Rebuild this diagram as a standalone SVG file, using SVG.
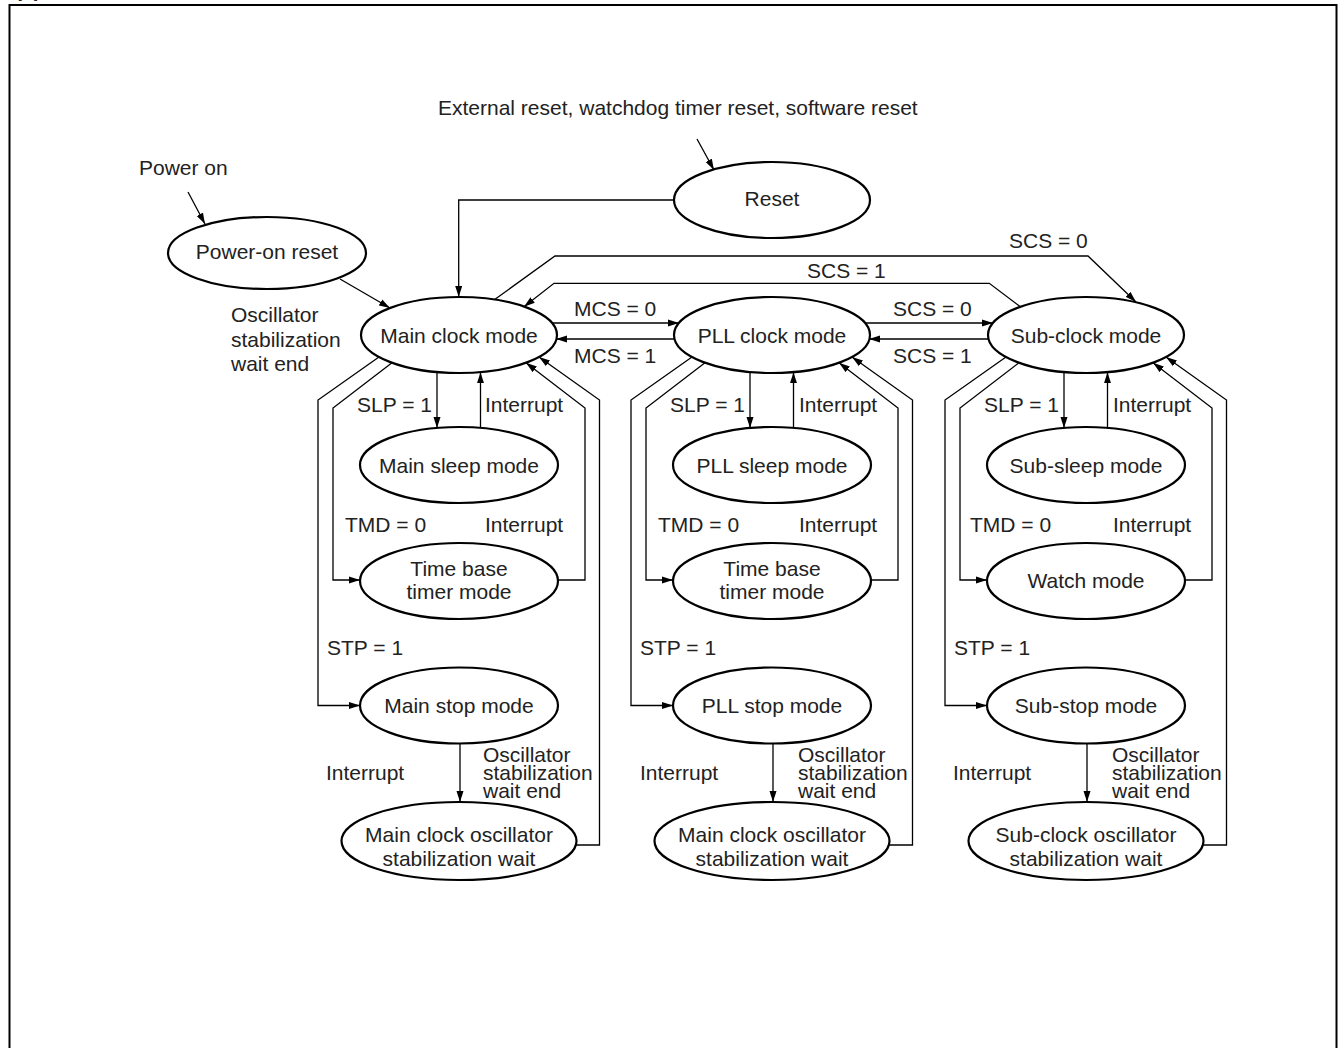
<svg xmlns="http://www.w3.org/2000/svg" width="1340" height="1048" viewBox="0 0 1340 1048">
<style>
text{font-family:"Liberation Sans",Arial,sans-serif;font-size:21px;fill:#222}
.c{text-anchor:middle}
.n{fill:#fff;stroke:#000;stroke-width:2.2}
.w{fill:none;stroke:#000;stroke-width:1.3;marker-end:url(#ah)}
</style>
<defs>
<marker id="ah" markerWidth="11" markerHeight="8" refX="11" refY="4" orient="auto" markerUnits="userSpaceOnUse"><path d="M0,0.5 L11,4 L0,7.5 z" fill="#000"/></marker>
</defs>
<rect x="0" y="0" width="1340" height="1048" fill="#fff"/>
<text x="15" y="-3.5" style="font-weight:bold">(1)</text>
<rect x="9.5" y="5" width="1327" height="1100" fill="none" stroke="#000" stroke-width="2"/>

<g id="connectors">
<path class="w" d="M188,192 L205,224"/>
<path class="w" d="M697,139 L714,170"/>
<path class="w" d="M340,279 L390,308"/>
<path class="w" d="M674,200 L458.7,200 L458.7,297"/>
<path class="w" d="M494,300 L555,256 L1088,256 L1136,302"/>
<path class="w" d="M1024,309.5 L989.3,283.3 L554,283.3 L524,306.8"/>
<path class="w" d="M540,323 L679,323"/>
<path class="w" d="M690,339 L556,339"/>
<path class="w" d="M850,323 L993,323"/>
<path class="w" d="M1000,339 L869,339"/>
<g id="col1-links" transform="translate(459,0)">
<path class="w" d="M-22,372 L-22,428"/>
<path class="w" d="M21.5,428 L21.5,372.2"/>
<path class="w" d="M-80,357 L-141,400 L-141,705.5 L-99,705.5"/>
<path class="w" d="M-67,362.7 L-126,408 L-126,580 L-99,580"/>
<path class="w" d="M99,580 L126,580 L126,408 L67,362.7"/>
<path class="w" d="M110,845 L140.5,845 L140.5,400 L80,357"/>
<path class="w" d="M1,743.5 L1,802"/>
</g>
<g id="col2-links" transform="translate(772,0)">
<path class="w" d="M-22,372 L-22,428"/>
<path class="w" d="M21.5,428 L21.5,372.2"/>
<path class="w" d="M-80,357 L-141,400 L-141,705.5 L-99,705.5"/>
<path class="w" d="M-67,362.7 L-126,408 L-126,580 L-99,580"/>
<path class="w" d="M99,580 L126,580 L126,408 L67,362.7"/>
<path class="w" d="M110,845 L140.5,845 L140.5,400 L80,357"/>
<path class="w" d="M1,743.5 L1,802"/>
</g>
<g id="col3-links" transform="translate(1086,0)">
<path class="w" d="M-22,372 L-22,428"/>
<path class="w" d="M21.5,428 L21.5,372.2"/>
<path class="w" d="M-80,357 L-141,400 L-141,705.5 L-99,705.5"/>
<path class="w" d="M-67,362.7 L-126,408 L-126,580 L-99,580"/>
<path class="w" d="M99,580 L126,580 L126,408 L67,362.7"/>
<path class="w" d="M110,845 L140.5,845 L140.5,400 L80,357"/>
<path class="w" d="M1,743.5 L1,802"/>
</g>
</g>

<g id="labels">
<text x="438" y="115">External reset, watchdog timer reset, software reset</text>
<text x="139" y="175">Power on</text>
<text x="231" y="322">Oscillator<tspan x="231" y="347">stabilization</tspan><tspan x="231" y="371">wait end</tspan></text>
<text x="1009" y="248">SCS = 0</text>
<text x="807" y="278">SCS = 1</text>
<text x="574" y="316">MCS = 0</text>
<text x="574" y="363">MCS = 1</text>
<text x="893" y="316">SCS = 0</text>
<text x="893" y="363">SCS = 1</text>
<g transform="translate(459,0)">
<text x="-102" y="412">SLP = 1</text>
<text x="26" y="412">Interrupt</text>
<text x="-114" y="532">TMD = 0</text>
<text x="26" y="532">Interrupt</text>
<text x="-132" y="655">STP = 1</text>
<text x="-133" y="780">Interrupt</text>
<text x="24" y="762">Oscillator<tspan x="24" y="780">stabilization</tspan><tspan x="24" y="798">wait end</tspan></text>
</g>
<g transform="translate(772,0)">
<text x="-102" y="412">SLP = 1</text>
<text x="27" y="412">Interrupt</text>
<text x="-114" y="532">TMD = 0</text>
<text x="27" y="532">Interrupt</text>
<text x="-132" y="655">STP = 1</text>
<text x="-132" y="780">Interrupt</text>
<text x="26" y="762">Oscillator<tspan x="26" y="780">stabilization</tspan><tspan x="26" y="798">wait end</tspan></text>
</g>
<g transform="translate(1086,0)">
<text x="-102" y="412">SLP = 1</text>
<text x="27" y="412">Interrupt</text>
<text x="-116" y="532">TMD = 0</text>
<text x="27" y="532">Interrupt</text>
<text x="-132" y="655">STP = 1</text>
<text x="-133" y="780">Interrupt</text>
<text x="26" y="762">Oscillator<tspan x="26" y="780">stabilization</tspan><tspan x="26" y="798">wait end</tspan></text>
</g>
</g>

<g id="power-on-reset"><ellipse class="n" cx="267" cy="253" rx="99" ry="36"/><text class="c" x="267" y="259">Power-on reset</text></g>
<g id="reset"><ellipse class="n" cx="772" cy="200" rx="98" ry="38"/><text class="c" x="772" y="206">Reset</text></g>

<g id="main-clock-mode"><ellipse class="n" cx="459" cy="335" rx="98" ry="38"/><text class="c" x="459" y="342.5">Main clock mode</text></g>
<g id="main-sleep-mode"><ellipse class="n" cx="459" cy="465" rx="99" ry="38"/><text class="c" x="459" y="472.5">Main sleep mode</text></g>
<g id="main-timebase-mode"><ellipse class="n" cx="459" cy="581" rx="99" ry="38"/><text class="c" x="459" y="575.5">Time base<tspan x="459" y="598.5">timer mode</tspan></text></g>
<g id="main-stop-mode"><ellipse class="n" cx="459" cy="705.5" rx="99" ry="38"/><text class="c" x="459" y="713">Main stop mode</text></g>
<g id="main-osc-wait-1"><ellipse class="n" cx="459" cy="841" rx="117.5" ry="39"/><text class="c" x="459" y="841.5">Main clock oscillator<tspan x="459" y="866">stabilization wait</tspan></text></g>

<g id="pll-clock-mode"><ellipse class="n" cx="772" cy="335" rx="98" ry="38"/><text class="c" x="772" y="342.5">PLL clock mode</text></g>
<g id="pll-sleep-mode"><ellipse class="n" cx="772" cy="465" rx="99" ry="38"/><text class="c" x="772" y="472.5">PLL sleep mode</text></g>
<g id="pll-timebase-mode"><ellipse class="n" cx="772" cy="581" rx="99" ry="38"/><text class="c" x="772" y="575.5">Time base<tspan x="772" y="598.5">timer mode</tspan></text></g>
<g id="pll-stop-mode"><ellipse class="n" cx="772" cy="705.5" rx="99" ry="38"/><text class="c" x="772" y="713">PLL stop mode</text></g>
<g id="main-osc-wait-2"><ellipse class="n" cx="772" cy="841" rx="117.5" ry="39"/><text class="c" x="772" y="841.5">Main clock oscillator<tspan x="772" y="866">stabilization wait</tspan></text></g>

<g id="sub-clock-mode"><ellipse class="n" cx="1086" cy="335" rx="98" ry="38"/><text class="c" x="1086" y="342.5">Sub-clock mode</text></g>
<g id="sub-sleep-mode"><ellipse class="n" cx="1086" cy="465" rx="99" ry="38"/><text class="c" x="1086" y="472.5">Sub-sleep mode</text></g>
<g id="watch-mode"><ellipse class="n" cx="1086" cy="581" rx="99" ry="38"/><text class="c" x="1086" y="588">Watch mode</text></g>
<g id="sub-stop-mode"><ellipse class="n" cx="1086" cy="705.5" rx="99" ry="38"/><text class="c" x="1086" y="713">Sub-stop mode</text></g>
<g id="sub-osc-wait"><ellipse class="n" cx="1086" cy="841" rx="117.5" ry="39"/><text class="c" x="1086" y="841.5">Sub-clock oscillator<tspan x="1086" y="866">stabilization wait</tspan></text></g>
</svg>
